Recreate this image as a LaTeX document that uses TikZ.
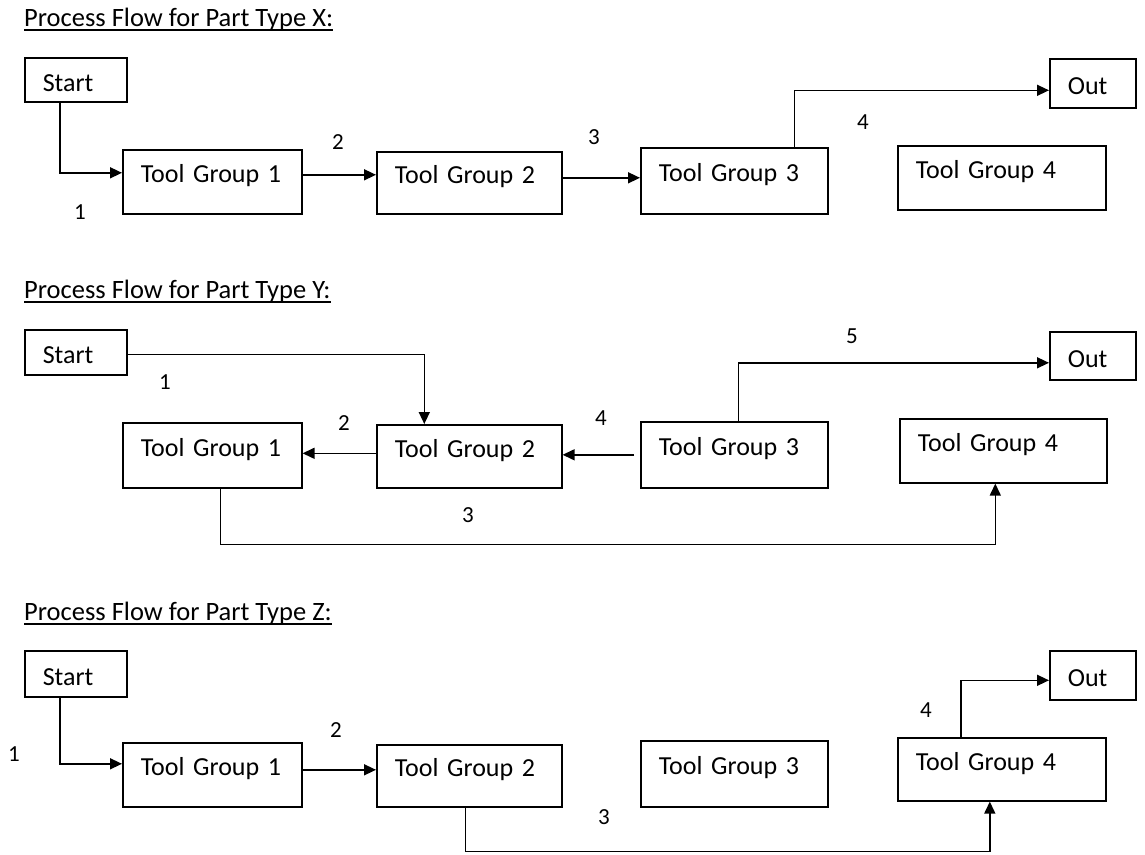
\documentclass[tikz,border=0pt]{standalone}
\usepackage{fontspec}
\setmainfont{Carlito}
\usetikzlibrary{arrows.meta}

\begin{document}
\begin{tikzpicture}[x=1pt,y=-1pt,
  box/.style 2 args={draw,line width=1.6pt,anchor=north west,align=left,inner xsep=18pt,inner ysep=0pt,
    text width=#1,minimum height=#2,text height=18pt,text depth=16pt,font=\fontsize{26}{30}\selectfont},
  endbox/.style 2 args={box={#1}{#2},text height=28pt,text depth=5pt},
  flow/.style={line width=1.5pt,-{Triangle[length=12pt,width=11pt]}},
  num/.style={inner sep=0pt,font=\fontsize{23}{27}\selectfont},
  ttl/.style={anchor=base west,inner sep=0pt,font=\fontsize{26.5}{30}\selectfont}]
  \useasboundingbox (0,0) rectangle (1145,854);

  % part type X
  \node[ttl] (hx) at (24,26) {Process Flow for Part Type X:};
  \draw[line width=1.4pt] ([yshift=-4pt]hx.base west) -- ([yshift=-4pt]hx.base east);
  \node[endbox={66pt}{44pt}] (sx) at (24,57) {Start};
  \node[box={143pt}{64pt}] (tx1) at (122,149) {Tool Group 1};
  \node[box={149pt}{62pt}] (tx2) at (376,151) {Tool Group 2};
  \node[box={151pt}{66pt}] (tx3) at (640,147) {Tool Group 3};
  \node[box={172pt}{64pt}] (tx4) at (897,145) {Tool Group 4};
  \node[endbox={50pt}{49pt}] (ox) at (1049,58) {Out};
  \draw[flow] ([xshift=-16pt]sx.south) |- ([yshift=9pt]tx1.west);
  \draw[flow] ([yshift=7pt]tx1.east) -- ([yshift=7pt]tx1.east -| tx2.west);
  \draw[flow] ([yshift=5pt]tx2.east) -- ([yshift=5pt]tx2.east -| tx3.west);
  \draw[flow] ([xshift=60pt]tx3.north) |- ([yshift=-7pt]ox.west);
  \node[num] (lx1) at (80,212) {1};
  \node[num] (lx2) at (338,142) {2};
  \node[num] (lx3) at (594,137) {3};
  \node[num] (lx4) at (863,122) {4};

  % part type Y
  \node[ttl] (hy) at (24,298) {Process Flow for Part Type Y:};
  \draw[line width=1.4pt] ([yshift=-4pt]hy.base west) -- ([yshift=-4pt]hy.base east);
  \node[endbox={66pt}{45pt}] (sy) at (24,329) {Start};
  \node[box={143pt}{65pt}] (ty1) at (122,422) {Tool Group 1};
  \node[box={149pt}{63pt}] (ty2) at (376,424) {Tool Group 2};
  \node[box={151pt}{66pt}] (ty3) at (640,421) {Tool Group 3};
  \node[box={171pt}{64pt}] (ty4) at (899,418) {Tool Group 4};
  \node[endbox={50pt}{48pt}] (oy) at (1049,331) {Out};
  \draw[flow] ([yshift=-2pt]sy.east) -| ([xshift=-45pt]ty2.north);
  \draw[flow] ([yshift=3pt]ty2.west) -- ([yshift=3pt]ty2.west -| ty1.east);
  \draw[flow] ([xshift=-6pt]ty3.west) -- (ty3.west -| ty2.east);
  \draw[flow] ([xshift=4pt]ty3.north) |- ([yshift=-7pt]oy.west);
  \draw[flow] ([xshift=8pt]ty1.south) -- ++(0,56) -| ([xshift=-8pt]ty4.south);
  \node[num] (ly1) at (165,382) {1};
  \node[num] (ly2) at (344,423) {2};
  \node[num] (ly3) at (468,515) {3};
  \node[num] (ly4) at (601,418) {4};
  \node[num] (ly5) at (852,336) {5};

  % part type Z
  \node[ttl] (hz) at (24,620) {Process Flow for Part Type Z:};
  \draw[line width=1.4pt] ([yshift=-4pt]hz.base west) -- ([yshift=-4pt]hz.base east);
  \node[endbox={66pt}{46pt}] (sz) at (24,650) {Start};
  \node[box={143pt}{64pt}] (tz1) at (122,742) {Tool Group 1};
  \node[box={149pt}{62pt}] (tz2) at (376,744) {Tool Group 2};
  \node[box={151pt}{66pt}] (tz3) at (640,740) {Tool Group 3};
  \node[box={172pt}{63pt}] (tz4) at (897,737) {Tool Group 4};
  \node[endbox={50pt}{49pt}] (oz) at (1049,650) {Out};
  \draw[flow] ([xshift=-16pt]sz.south) |- ([yshift=11pt]tz1.west);
  \draw[flow] ([yshift=5pt]tz1.east) -- ([yshift=5pt]tz1.east -| tz2.west);
  \draw[flow] ([xshift=-4pt]tz2.south) -- ++(0,44) -| ([xshift=-12pt]tz4.south);
  \draw[flow] ([xshift=-41pt]tz4.north) |- ([yshift=-5pt]oz.west);
  \node[num] (lz1) at (14,754) {1};
  \node[num] (lz2) at (336,730) {2};
  \node[num] (lz3) at (604,817) {3};
  \node[num] (lz4) at (926,710) {4};
\end{tikzpicture}
\end{document}
